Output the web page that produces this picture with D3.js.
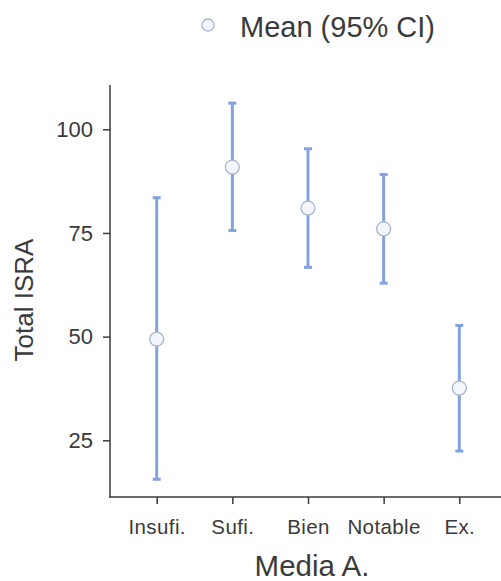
<!DOCTYPE html>
<html><head><meta charset="utf-8">
<script src="https://cdn.jsdelivr.net/npm/d3@7"></script>
<style>body{margin:0;background:#fff;} text{font-family:"Liberation Sans",Arial,sans-serif;}</style>
</head><body><svg id="c" width="501" height="581"></svg>
<script>
const categories = ["Insufi.", "Sufi.", "Bien", "Notable", "Ex."];
const means = [49.4, 90.9, 81.0, 76.0, 37.6];
const lower = [15.6, 75.6, 66.7, 62.9, 22.4];
const upper = [83.5, 106.3, 95.3, 89.1, 52.7];
const yTicks = [25, 50, 75, 100];

const svg = d3.select("#c");
const axisX0 = 110, axisX1 = 501, axisY0 = 497, axisTop = 85;
const y = d3.scaleLinear().domain([25, 100]).range([440.3, 129.3]);
const x = d3.scalePoint().domain(categories).range([156.7, 459.3]);

const ink = "#3a3a3a";
// axes
const gy = svg.append("g").attr("transform", `translate(${axisX0},0)`)
  .call(d3.axisLeft(y).tickValues(yTicks).tickSize(7).tickPadding(10));
gy.select(".domain").remove();
gy.selectAll("line").attr("stroke", ink).attr("stroke-width", 1.5);
gy.selectAll("text").attr("fill", ink).style("font-size", "22px");

const gx = svg.append("g").attr("transform", `translate(0,${axisY0})`)
  .call(d3.axisBottom(x).tickSize(7).tickPadding(15));
gx.select(".domain").remove();
gx.selectAll("line").attr("stroke", ink).attr("stroke-width", 1.5);
gx.selectAll("text").attr("fill", ink).style("font-size", "20.5px").style("letter-spacing", "0.4px");

svg.append("line").attr("x1", axisX0).attr("x2", axisX0).attr("y1", axisTop).attr("y2", axisY0 + 0.75)
  .attr("stroke", ink).attr("stroke-width", 1.5);
svg.append("line").attr("x1", axisX0 - 0.75).attr("x2", axisX1).attr("y1", axisY0).attr("y2", axisY0)
  .attr("stroke", ink).attr("stroke-width", 1.5);

// error bars
const barCol = "#84a2de";
const g = svg.append("g");
categories.forEach((c, i) => {
  const cx = x(c);
  g.append("line").attr("x1", cx).attr("x2", cx).attr("y1", y(lower[i])).attr("y2", y(upper[i]))
    .attr("stroke", barCol).attr("stroke-width", 3);
  [lower[i], upper[i]].forEach(v => {
    g.append("line").attr("x1", cx - 4).attr("x2", cx + 4).attr("y1", y(v)).attr("y2", y(v))
      .attr("stroke", barCol).attr("stroke-width", 3);
  });
  g.append("circle").attr("cx", cx).attr("cy", y(means[i])).attr("r", 7)
    .attr("fill", "#f3f6fb").attr("stroke", "#a9b6cc").attr("stroke-width", 1.3);
});

// titles
svg.append("text").attr("transform", "translate(33,300) rotate(-90)").attr("text-anchor", "middle")
  .attr("fill", ink).style("font-size", "26px").text("Total ISRA");
svg.append("text").attr("x", 312).attr("y", 576).attr("text-anchor", "middle")
  .attr("fill", ink).style("font-size", "29.5px").text("Media A.");

// legend
svg.append("circle").attr("cx", 208).attr("cy", 25).attr("r", 6)
  .attr("fill", "#f3f6fb").attr("stroke", "#a9b6cc").attr("stroke-width", 1.3);
svg.append("text").attr("x", 240).attr("y", 37).attr("fill", ink).style("font-size", "29px").text("Mean (95% CI)");
</script></body></html>
